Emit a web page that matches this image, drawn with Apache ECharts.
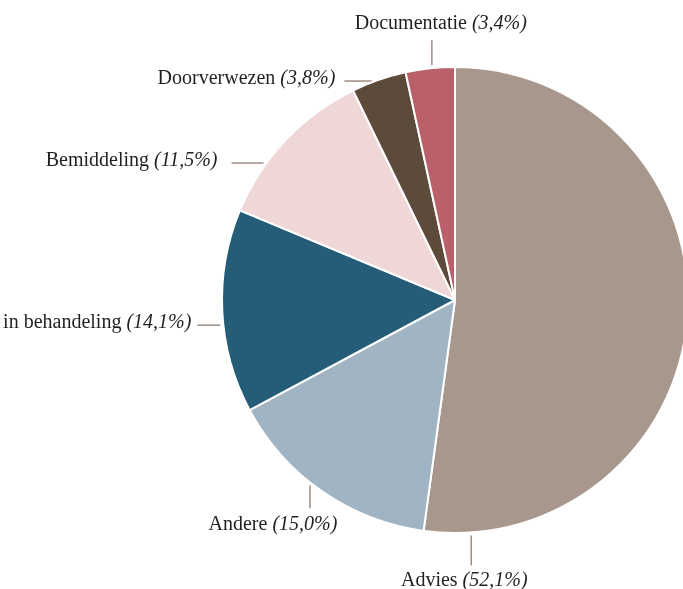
<!DOCTYPE html>
<html>
<head>
<meta charset="utf-8">
<script src="https://cdn.jsdelivr.net/npm/echarts@6/dist/echarts.min.js"></script>
<style>
  html, body { margin: 0; padding: 0; background: #fff; }
  #chart { width: 683px; height: 589px; }
</style>
</head>
<body>
<div id="chart"></div>
<script>
  // data
  const names = ['Advies', 'Andere', 'Klacht in behandeling', 'Bemiddeling', 'Doorverwezen', 'Documentatie'];
  const shares = [52.1, 15.0, 14.1, 11.5, 3.8, 3.4];
  const colors = ['#a8978c', '#a0b4c3', '#255d78', '#efd7d8', '#5c4a3b', '#b9606a'];

  // label placement: angle where the line leaves the pie (degrees clockwise from top), side, line length, text gap
  const labelAngle = [176, 218.5, 263.8, 306, 340, 354.3];
  const labelSide = ['bottom', 'bottom', 'left', 'left', 'left', 'top'];
  const labelShift = [-7, -37, 0, 0, 0, 9];
  const lineLen = [30, 23, 23, 32, 28, 25];
  const textGap = [5, 6, 6, 14, 9, 6];

  const CX = 455, CY = 300, R = 233;

  let myChart = echarts.init(document.getElementById('chart'));

  let option = {
    animation: false,
    series: [
      {
        type: 'pie',
        center: [CX, CY],
        radius: R,
        startAngle: 90,
        clockwise: true,
        avoidLabelOverlap: false,
        itemStyle: {
          borderColor: '#fff',
          borderWidth: 2
        },
        label: {
          show: true,
          position: 'outside',
          fontFamily: 'Liberation Serif',
          fontSize: 20,
          color: '#231f20',
          formatter: p => p.name + ' {p|(' + p.value.toFixed(1).replace('.', ',') + '%)}',
          rich: {
            p: {
              fontFamily: 'Liberation Serif',
              fontSize: 20,
              fontStyle: 'italic',
              color: '#231f20'
            }
          }
        },
        labelLine: {
          show: true,
          lineStyle: { color: '#9e8c84', width: 1.5 }
        },
        labelLayout: function (p) {
          let i = p.dataIndex;
          let a = labelAngle[i] * Math.PI / 180;
          let ex = CX + R * Math.sin(a);
          let ey = CY - R * Math.cos(a);
          let gap = 3, len = lineLen[i];
          let side = labelSide[i];
          if (side === 'left') {
            let p1 = [ex - gap, ey], p2 = [ex - gap - len, ey];
            return {
              x: p2[0] - textGap[i], y: ey - 2, align: 'right', verticalAlign: 'middle',
              labelLinePoints: [p1, p2, p2]
            };
          } else if (side === 'top') {
            let p1 = [ex, ey - gap], p2 = [ex, ey - gap - len];
            return {
              x: ex + labelShift[i], y: p2[1] - textGap[i], align: 'center', verticalAlign: 'bottom',
              labelLinePoints: [p1, p2, p2]
            };
          } else {
            let p1 = [ex, ey + gap], p2 = [ex, ey + gap + len];
            return {
              x: ex + labelShift[i], y: p2[1] + textGap[i], align: 'center', verticalAlign: 'top',
              labelLinePoints: [p1, p2, p2]
            };
          }
        },
        data: names.map((n, i) => ({ name: n, value: shares[i], itemStyle: { color: colors[i] } }))
      }
    ]
  };
  option && myChart.setOption(option);
</script>
</body>
</html>
